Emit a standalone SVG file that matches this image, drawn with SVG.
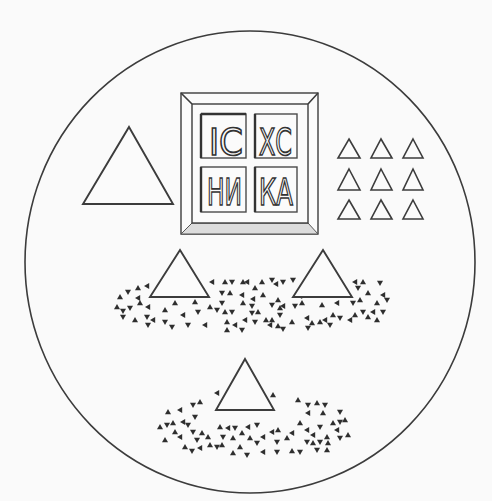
<svg xmlns="http://www.w3.org/2000/svg" xmlns:xlink="http://www.w3.org/1999/xlink" width="492" height="501" viewBox="0 0 492 501">
<style>
.ln{fill:none;stroke:#3c3c3c;stroke-width:1.6;stroke-linejoin:miter}
.tri{fill:#fbfbfb;stroke:#3c3c3c;stroke-width:1.9}
.sm{fill:#fbfbfb;stroke:#3c3c3c;stroke-width:1.6}
.lt{font-family:"DejaVu Sans","Liberation Sans",sans-serif;font-size:38px;fill:#fbfbfb;stroke:#333;stroke-width:1.7;text-anchor:start}
.cell{fill:none;stroke:#4a4a4a;stroke-width:1.4}
</style>
<defs>
<path id="u" d="M0,-3 L3,2.2 L-3,2.2Z" fill="#2e2e2e"/>
<path id="v" d="M0,3 L3,-2.2 L-3,-2.2Z" fill="#2e2e2e"/>
<path id="w" d="M-3,0 L2.2,3 L2.2,-3Z" fill="#2e2e2e"/>
</defs>
<rect width="492" height="501" fill="#fafafa"/>
<g id="diskos">
<ellipse cx="250" cy="262" rx="225" ry="231" class="ln" stroke-width="1.6"/>
</g>
<g id="lamb">
<rect x="181" y="93" width="137" height="141" fill="#fbfbfb" stroke="#3c3c3c" stroke-width="1.4"/>
<path d="M181,234 L192,223 L308,223 L318,234Z" fill="#dcdcdc" stroke="#555" stroke-width="1"/>
<rect x="192" y="104" width="116" height="119" fill="#fbfbfb" stroke="#3c3c3c" stroke-width="1.4"/>
<path d="M181,93 L192,104 M318,93 L308,104" class="ln" stroke-width="1"/>
<rect x="201" y="114" width="45" height="44" class="cell"/>
<rect x="255" y="114" width="42" height="44" class="cell"/>
<rect x="201" y="167" width="45" height="45" class="cell"/>
<rect x="255" y="167" width="42" height="45" class="cell"/>
<path d="M201,114 V158 M201,114 H246 M255,114 V158 M201,167 V212 M255,167 V212" stroke="#333" stroke-width="2.4" fill="none"/>
<text class="lt" x="209" y="155" textLength="34" lengthAdjust="spacingAndGlyphs">ІС</text>
<text class="lt" x="259" y="155" textLength="33" lengthAdjust="spacingAndGlyphs">ХС</text>
<text class="lt" x="207" y="205" textLength="35" lengthAdjust="spacingAndGlyphs">НИ</text>
<text class="lt" x="259" y="205" textLength="34" lengthAdjust="spacingAndGlyphs">КА</text>
</g>
<g id="theotokos">
<polygon class="tri" points="129,127 173,204 83,204"/>
</g>
<g id="nine-orders">
<polygon class="sm" points="349,139 360,158 338,158"/>
<polygon class="sm" points="381,139 392,158 371,158"/>
<polygon class="sm" points="413,139 423,158 403,158"/>
<polygon class="sm" points="349,169 360,190 338,190"/>
<polygon class="sm" points="381,169 392,190 371,190"/>
<polygon class="sm" points="413,169 423,190 403,190"/>
<polygon class="sm" points="349,200 360,219 338,219"/>
<polygon class="sm" points="381,200 392,219 371,219"/>
<polygon class="sm" points="413,200 423,219 403,219"/>
</g>
<g id="living-particles">
<use href="#u" x="138" y="288"/><use href="#w" x="147" y="286"/><use href="#v" x="128" y="292"/><use href="#u" x="120" y="297"/>
<use href="#w" x="138" y="298"/><use href="#v" x="130" y="308"/><use href="#u" x="117" y="307"/><use href="#v" x="123" y="311"/>
<use href="#u" x="140" y="303"/><use href="#w" x="148" y="307"/><use href="#v" x="123" y="317"/><use href="#u" x="135" y="320"/>
<use href="#v" x="147" y="317"/><use href="#w" x="153" y="320"/><use href="#v" x="148" y="325"/><use href="#u" x="165" y="310"/>
<use href="#v" x="165" y="322"/><use href="#v" x="172" y="327"/><use href="#u" x="175" y="303"/><use href="#w" x="183" y="315"/>
<use href="#v" x="188" y="325"/><use href="#u" x="195" y="302"/><use href="#v" x="198" y="312"/><use href="#w" x="205" y="325"/>
<use href="#u" x="210" y="307"/><use href="#v" x="217" y="310"/><use href="#w" x="212" y="282"/><use href="#u" x="225" y="282"/>
<use href="#v" x="232" y="282"/><use href="#u" x="243" y="282"/><use href="#v" x="222" y="293"/><use href="#u" x="230" y="293"/>
<use href="#w" x="242" y="295"/><use href="#v" x="222" y="303"/><use href="#u" x="225" y="312"/><use href="#v" x="232" y="312"/>
<use href="#u" x="227" y="322"/><use href="#w" x="235" y="325"/><use href="#v" x="242" y="330"/><use href="#u" x="227" y="330"/>
<use href="#w" x="247" y="282"/><use href="#u" x="255" y="288"/><use href="#u" x="262" y="282"/><use href="#v" x="272" y="280"/>
<use href="#w" x="276" y="284"/><use href="#v" x="283" y="282"/><use href="#v" x="293" y="280"/><use href="#u" x="243" y="303"/>
<use href="#w" x="253" y="299"/><use href="#u" x="263" y="295"/><use href="#v" x="272" y="305"/><use href="#u" x="278" y="300"/>
<use href="#w" x="283" y="306"/><use href="#v" x="252" y="306"/><use href="#u" x="280" y="308"/><use href="#v" x="295" y="306"/>
<use href="#u" x="302" y="303"/><use href="#u" x="322" y="305"/><use href="#w" x="337" y="303"/><use href="#v" x="353" y="303"/>
<use href="#u" x="360" y="300"/><use href="#v" x="252" y="313"/><use href="#u" x="258" y="312"/><use href="#w" x="245" y="320"/>
<use href="#v" x="255" y="322"/><use href="#u" x="272" y="320"/><use href="#v" x="280" y="315"/><use href="#w" x="270" y="325"/>
<use href="#u" x="278" y="326"/><use href="#v" x="283" y="329"/><use href="#u" x="292" y="322"/><use href="#w" x="307" y="318"/>
<use href="#u" x="312" y="323"/><use href="#v" x="308" y="328"/><use href="#u" x="320" y="322"/><use href="#w" x="325" y="320"/>
<use href="#v" x="330" y="325"/><use href="#u" x="333" y="315"/><use href="#v" x="340" y="318"/><use href="#w" x="350" y="320"/>
<use href="#u" x="355" y="315"/><use href="#v" x="363" y="312"/><use href="#u" x="368" y="317"/><use href="#w" x="373" y="312"/>
<use href="#v" x="383" y="312"/><use href="#u" x="377" y="320"/><use href="#w" x="355" y="282"/><use href="#u" x="363" y="282"/>
<use href="#v" x="358" y="288"/><use href="#u" x="368" y="293"/><use href="#v" x="380" y="283"/><use href="#w" x="383" y="295"/>
<use href="#u" x="377" y="303"/><use href="#v" x="387" y="300"/><use href="#u" x="266" y="320"/><use href="#w" x="300" y="296"/>
</g>
<g id="departed-particles">
<use href="#w" x="217" y="393"/><use href="#u" x="273" y="395"/><use href="#v" x="193" y="405"/><use href="#u" x="200" y="402"/>
<use href="#u" x="168" y="412"/><use href="#w" x="180" y="410"/><use href="#v" x="195" y="417"/><use href="#u" x="160" y="427"/>
<use href="#v" x="167" y="425"/><use href="#u" x="173" y="423"/><use href="#w" x="183" y="422"/><use href="#v" x="188" y="425"/>
<use href="#u" x="175" y="432"/><use href="#v" x="193" y="432"/><use href="#u" x="202" y="433"/><use href="#w" x="180" y="437"/>
<use href="#u" x="165" y="440"/><use href="#v" x="197" y="440"/><use href="#u" x="185" y="447"/><use href="#v" x="192" y="451"/>
<use href="#w" x="200" y="448"/><use href="#u" x="210" y="445"/><use href="#v" x="217" y="447"/><use href="#u" x="222" y="445"/>
<use href="#u" x="220" y="427"/><use href="#w" x="228" y="428"/><use href="#v" x="223" y="437"/><use href="#u" x="233" y="438"/>
<use href="#v" x="235" y="428"/><use href="#u" x="242" y="433"/><use href="#w" x="248" y="427"/><use href="#v" x="257" y="425"/>
<use href="#u" x="250" y="438"/><use href="#v" x="257" y="443"/><use href="#u" x="240" y="447"/><use href="#u" x="233" y="453"/>
<use href="#v" x="247" y="455"/><use href="#w" x="263" y="452"/><use href="#w" x="272" y="432"/><use href="#u" x="278" y="430"/>
<use href="#v" x="277" y="442"/><use href="#u" x="287" y="438"/><use href="#w" x="292" y="433"/><use href="#v" x="277" y="452"/>
<use href="#u" x="292" y="451"/><use href="#v" x="300" y="452"/><use href="#u" x="298" y="400"/><use href="#v" x="308" y="405"/>
<use href="#u" x="317" y="403"/><use href="#v" x="325" y="405"/><use href="#w" x="308" y="413"/><use href="#u" x="323" y="413"/>
<use href="#v" x="340" y="412"/><use href="#u" x="300" y="423"/><use href="#w" x="307" y="430"/><use href="#v" x="320" y="427"/>
<use href="#u" x="333" y="423"/><use href="#v" x="340" y="422"/><use href="#u" x="345" y="420"/><use href="#w" x="337" y="430"/>
<use href="#u" x="348" y="435"/><use href="#v" x="340" y="438"/><use href="#u" x="327" y="437"/><use href="#w" x="313" y="435"/>
<use href="#v" x="307" y="442"/><use href="#u" x="313" y="443"/><use href="#v" x="320" y="442"/><use href="#u" x="328" y="443"/>
<use href="#v" x="317" y="450"/><use href="#u" x="327" y="450"/><use href="#w" x="263" y="437"/><use href="#u" x="208" y="437"/>
</g>
<g id="forerunner-apostles">
<polygon class="tri" points="180,250 209,297 150,297"/>
<polygon class="tri" points="323,250 352,297 293,297"/>
</g>
<g id="departed">
<polygon class="tri" points="245,359 274,410 216,410"/>
</g>
</svg>
